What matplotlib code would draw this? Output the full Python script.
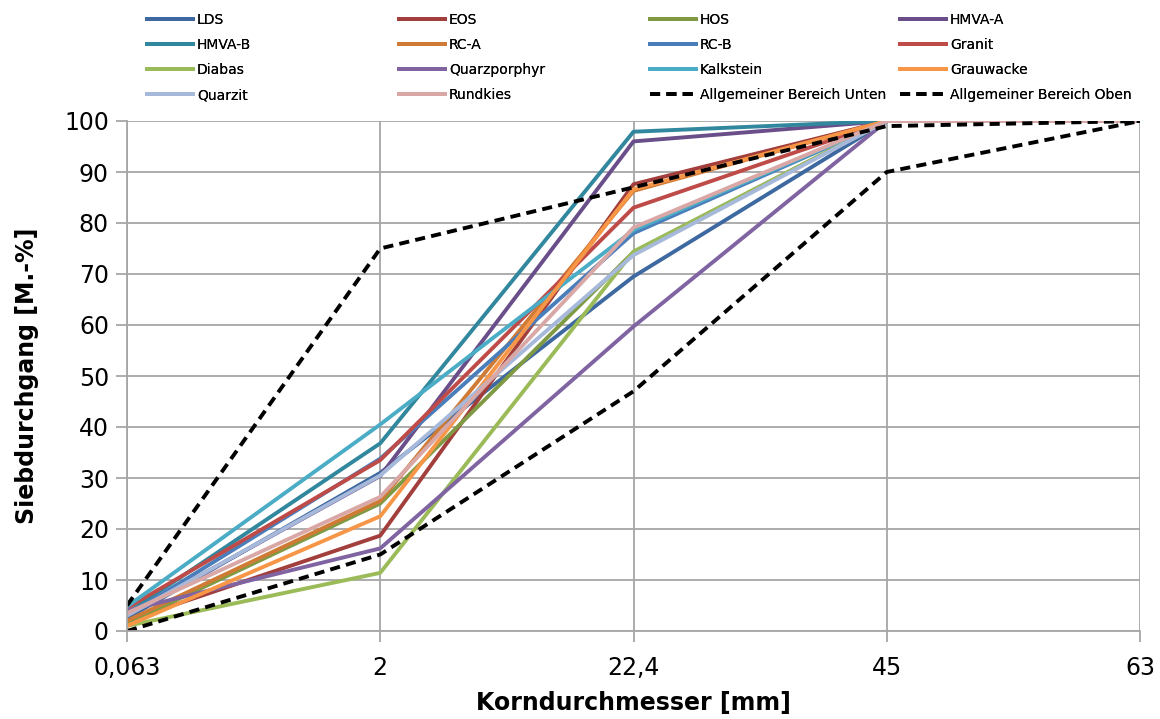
import matplotlib
matplotlib.use("Agg")
import matplotlib.pyplot as plt

x_labels = ["0,063", "2", "22,4", "45", "63"]

names = ["LDS", "EOS", "HOS", "HMVA-A", "HMVA-B", "RC-A", "RC-B", "Granit",
         "Diabas", "Quarzporphyr", "Kalkstein", "Grauwacke", "Quarzit", "Rundkies"]

LDS = [2.5, 31.0, 69.5, 100, 100]
EOS = [2.0, 18.7, 87.6, 100, 100]
HOS = [1.5, 25.0, 74.3, 100, 100]
HMVA_A = [3.0, 30.4, 96.0, 100, 100]
HMVA_B = [3.5, 36.8, 97.9, 100, 100]
RC_A = [2.0, 25.5, 86.3, 100, 100]
RC_B = [3.0, 33.8, 78.0, 100, 100]
Granit = [4.5, 33.5, 83.0, 100, 100]
Diabas = [1.0, 11.4, 74.4, 100, 100]
Quarzporphyr = [4.0, 16.2, 59.7, 100, 100]
Kalkstein = [4.8, 40.5, 78.6, 100, 100]
Grauwacke = [1.0, 22.5, 86.6, 100, 100]
Quarzit = [3.0, 30.5, 73.7, 100, 100]
Rundkies = [3.5, 26.3, 79.1, 100, 100]

Unten = [0, 15, 47, 90, 100]
Oben = [5, 75, 87, 99, 100]

colors = ["#3D69A0", "#A23E3B", "#7F9A43", "#6A4E8A", "#31879D", "#D07B35",
          "#4A7EBB", "#BE4B48", "#9BBB59", "#8064A2", "#4BACC6", "#F79646",
          "#A7B9DA", "#D9A8A6"]

series = [LDS, EOS, HOS, HMVA_A, HMVA_B, RC_A, RC_B, Granit, Diabas,
          Quarzporphyr, Kalkstein, Grauwacke, Quarzit, Rundkies]

fig = plt.figure(figsize=(11.6, 7.19), dpi=100)
ax = fig.add_axes([127/1160, 1 - 631/719, (1140 - 127)/1160, (631 - 121)/719])

xs = list(range(len(x_labels)))
handles = []
for name, vals, c in zip(names, series, colors):
    h, = ax.plot(xs, vals, color=c, lw=2.8, label=name)
    handles.append(h)
dash = (0, (2.6, 1.6))
hu, = ax.plot(xs, Unten, color="black", lw=2.8, ls=dash, label="Allgemeiner Bereich Unten")
ho, = ax.plot(xs, Oben, color="black", lw=2.8, ls=dash, label="Allgemeiner Bereich Oben")
handles += [hu, ho]

ax.set_xlim(0, 4)
ax.set_ylim(0, 100)
ax.set_xticks(xs)
ax.set_xticklabels(x_labels)
ax.set_yticks(range(0, 101, 10))
ax.grid(True, color="#A6A6A6", lw=1.3)
ax.set_axisbelow(True)
for s in ["top", "right"]:
    ax.spines[s].set_visible(False)
for s in ["left", "bottom"]:
    ax.spines[s].set_color("#A6A6A6")
    ax.spines[s].set_linewidth(1.3)
ax.tick_params(axis="both", colors="#A6A6A6", length=8, width=1.3, labelsize=17,
               labelcolor="black")
ax.tick_params(axis="x", pad=10)
ax.tick_params(axis="y", pad=5)
ax.set_xlabel("Korndurchmesser [mm]", fontsize=17, fontweight="bold", labelpad=8)
ax.set_ylabel("Siebdurchgang [M.-%]", fontsize=17, fontweight="bold", labelpad=18)

# Legend in 4 evenly spaced columns (row-major order as in original)
ncol = 4
col_x = [147/1160, 399/1160, 650/1160, 900/1160]
for ci in range(ncol):
    hs = handles[ci::ncol]
    leg = fig.legend(handles=hs, labels=[h.get_label() for h in hs],
                     loc="upper left", bbox_to_anchor=(col_x[ci], 1 - 13/719),
                     frameon=False, fontsize=10, handlelength=3.3,
                     handletextpad=0.3, labelspacing=0.8, borderaxespad=0,
                     borderpad=0)
    fig.add_artist(leg)

fig.savefig("out.png", dpi=100)
